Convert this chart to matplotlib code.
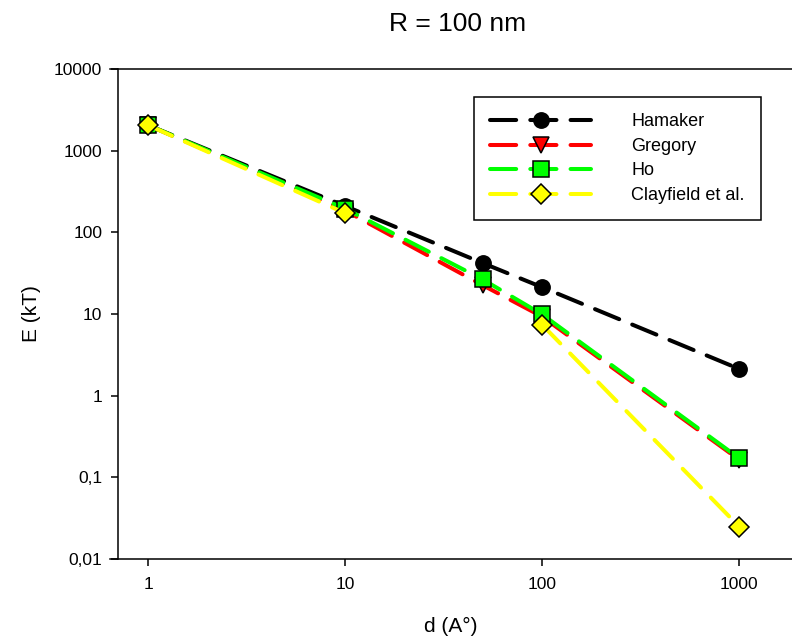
"""
R = 100 nm : interaction energy versus separation, four models.
"""

import matplotlib
matplotlib.use("Agg")
import numpy as np
import matplotlib.pyplot as plt

plt.rcParams.update({"font.family": ["Liberation Sans", "DejaVu Sans"]})

d = [1, 10, 50, 100, 1000]
hamaker = [2050, 210, 42, 21.3, 2.13]
gregory = [2050, 185, 22.5, 9.3, 0.165]
ho = [2050, 195, 26.5, 9.9, 0.172]
clayfield = [2050, 172, np.nan, 7.4, 0.025]

series = [
    ("Hamaker", hamaker, "black", "o"),
    ("Gregory", gregory, "#ff0000", "v"),
    ("Ho", ho, "#00ff00", "s"),
    ("Clayfield et al.", clayfield, "#ffff00", "D"),
]

yticks = [0.01, 0.1, 1, 10, 100, 1000, 10000]
ytick_labels = ["0,01", "0,1", "1", "10", "100", "1000", "10000"]
xticks = [1, 10, 100, 1000]
xtick_labels = ["1", "10", "100", "1000"]


def main():
    fig = plt.figure(figsize=(7.92, 6.41), dpi=100)
    ax = fig.add_axes([110 / 792, 82 / 641, 682 / 792, 490 / 641])

    for name, vals, color, marker in series:
        ms = 11 if marker != "D" else 10
        ax.plot(d, vals, color=color, lw=2.9, dashes=(6.5, 3.5),
                dash_capstyle="round", marker=marker, markersize=ms,
                markerfacecolor=color, markeredgecolor="black",
                markeredgewidth=1.1, label=name)

    ax.set_xscale("log")
    ax.set_yscale("log")
    ax.set_xlim(0.641, 1858)
    ax.set_ylim(0.01, 10000)

    ax.spines["right"].set_visible(False)
    ax.spines["left"].set_position(("data", 0.7))
    for s in ["left", "top", "bottom"]:
        ax.spines[s].set_linewidth(1.1)

    ax.set_xticks(xticks)
    ax.set_xticklabels(xtick_labels)
    ax.set_yticks(yticks)
    ax.set_yticklabels(ytick_labels)
    ax.minorticks_off()
    ax.tick_params(direction="out", length=5, width=1.1, labelsize=12.5)
    ax.tick_params(axis="x", pad=8)
    ax.tick_params(axis="y", pad=6)

    ax.set_xlabel("d (A°)", fontsize=15)
    ax.set_ylabel("E (kT)", fontsize=15)
    ax.xaxis.set_label_coords(0.5, -0.118)
    ax.yaxis.set_label_coords(-0.101, 0.5)

    fig.text(458 / 792, 1 - 24 / 641, "R = 100 nm", fontsize=19,
             ha="center", va="center")

    leg = ax.legend(loc="upper left", bbox_to_anchor=(364 / 682, 1 - 28 / 490),
                    fontsize=13, numpoints=1, handlelength=5.6,
                    handletextpad=2.2, labelspacing=0.42, borderpad=0.9,
                    borderaxespad=0, fancybox=False, framealpha=1,
                    edgecolor="black")
    leg.get_frame().set_linewidth(1.1)

    fig.savefig("out.png", dpi=100)


if __name__ == "__main__":
    main()
